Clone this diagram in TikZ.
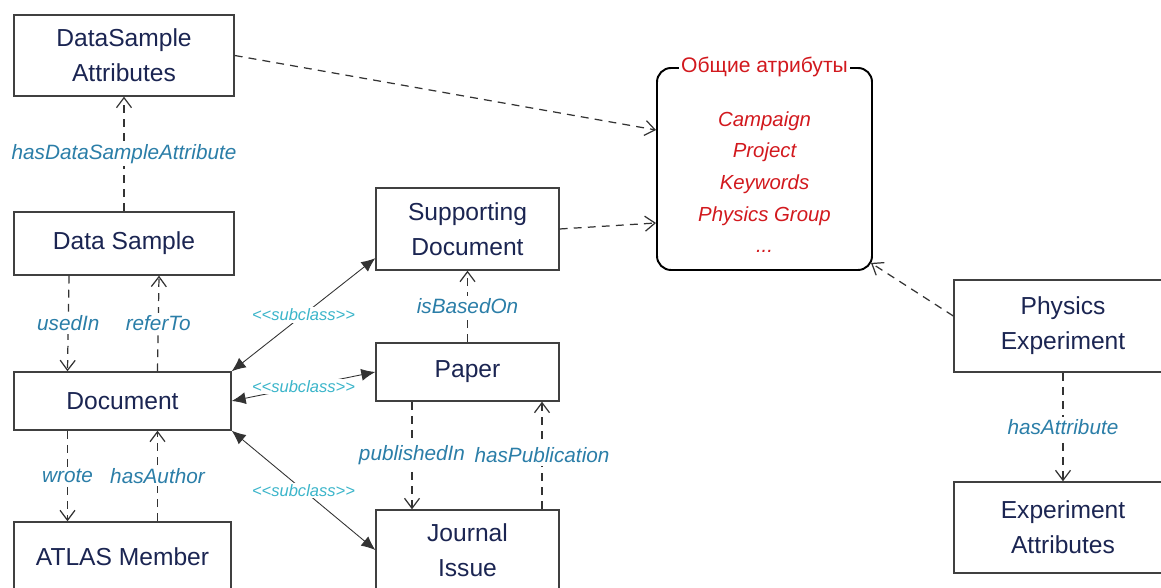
\documentclass[tikz,border=0pt]{standalone}
\usepackage{fontspec}
\setmainfont{Liberation Sans}
\usepackage{tikz}
\usetikzlibrary{arrows, arrows.meta, positioning}
\usepackage{xcolor}
\definecolor{navy}{HTML}{1B2552}
\definecolor{relblue}{HTML}{2B7EA8}
\definecolor{subcyan}{HTML}{3BB5CA}
\definecolor{attrred}{HTML}{D2191E}

\begin{document}
\begin{tikzpicture}
[box/.style = {rectangle, draw=black!75, line width=.8pt, fill=white, text=navy, align=center, inner sep=0pt, font=\fontsize{14}{20}\selectfont},
 rel/.style = {black!80, line width=.7pt, dash pattern=on 4.5pt off 3.5pt, -{Straight Barb[length=2mm,width=3mm]}},
 lbl/.style = {fill=white, text=relblue, font=\fontsize{11.8}{14}\selectfont\itshape, inner sep=1.5pt},
 sub/.style = {black!80, line width=.5pt, {Latex[length=2.8mm,width=2.4mm]}-{Latex[length=2.8mm,width=2.4mm]}},
 sublbl/.style = {fill=white, text=subcyan, font=\fontsize{9.4}{11}\selectfont\itshape, inner sep=1pt}]

\useasboundingbox (0,0) rectangle (23.22,11.76);

\node[box, minimum width=4.4cm, minimum height=1.62cm] (n1) at (2.48,10.65) {DataSample\\Attributes};
\node[box, minimum width=4.4cm, minimum height=1.26cm] (n2) at (2.48,6.89) {Data Sample};
\node[box, minimum width=4.34cm, minimum height=1.16cm] (n3) at (2.45,3.74) {Document};
\node[box, minimum width=4.34cm, minimum height=1.4cm] (n4) at (2.45,0.62) {ATLAS Member};
\node[box, minimum width=3.66cm, minimum height=1.64cm] (n5) at (9.35,7.18) {Supporting\\Document};
\node[box, minimum width=3.66cm, minimum height=1.16cm] (n6) at (9.35,4.32) {Paper};
\node[box, minimum width=3.66cm, minimum height=1.6cm] (n7) at (9.35,0.76) {Journal\\Issue};
\node[rectangle, rounded corners=8pt, draw=black, line width=1.1pt, minimum width=4.3cm, minimum height=4.04cm] (n8) at (15.29,8.38) {};
\node[box, minimum width=4.36cm, minimum height=1.84cm] (n9) at (21.26,5.24) {Physics\\Experiment};
\node[box, minimum width=4.36cm, minimum height=1.82cm] (n10) at (21.26,1.21) {Experiment\\Attributes};
\node[align=center, text=attrred, font=\fontsize{11.6}{18}\selectfont\itshape] (n11) at (15.29,8.12) {Campaign\\Project\\Keywords\\Physics Group\\...};
\node[fill=white, inner sep=1pt, text=attrred, font=\fontsize{12}{14}\selectfont] (n12) at (n8.north) {Общие атрибуты};

\path[rel] (n2) edge node[lbl] {hasDataSampleAttribute} (n1)
 ([xshift=-1.1cm]n2.south) edge node[lbl] {usedIn} ([xshift=-1.1cm]n3.north)
 ([xshift=.7cm]n3.north) edge node[lbl] {referTo} ([xshift=.7cm]n2.south)
 ([xshift=-1.1cm]n3.south) edge node[lbl] {wrote} ([xshift=-1.1cm]n4.north)
 ([xshift=.7cm]n4.north) edge node[lbl] {hasAuthor} ([xshift=.7cm]n3.south)
 (n6) edge node[lbl] {isBasedOn} (n5)
 ([xshift=-1.11cm]n6.south) edge node[lbl] {publishedIn} ([xshift=-1.11cm]n7.north)
 ([xshift=1.49cm]n7.north) edge node[lbl] {hasPublication} ([xshift=1.49cm]n6.south)
 (n9) edge node[lbl] {hasAttribute} (n10)
 (n1.east) edge ([yshift=.78cm]n8.west)
 (n5.east) edge ([yshift=-1.08cm]n8.west)
 ([yshift=.2cm]n9.west) edge ([xshift=-.04cm, yshift=.16cm]n8.south east);
\path[sub] (n3.north east) edge node[sublbl] {<{}<subclass>{}>} ([yshift=.25cm]n5.south west)
 (n3.east) edge node[sublbl] {<{}<subclass>{}>} (n6.west)
 (n3.south east) edge node[sublbl] {<{}<subclass>{}>} (n7.west);

\end{tikzpicture}
\end{document}
